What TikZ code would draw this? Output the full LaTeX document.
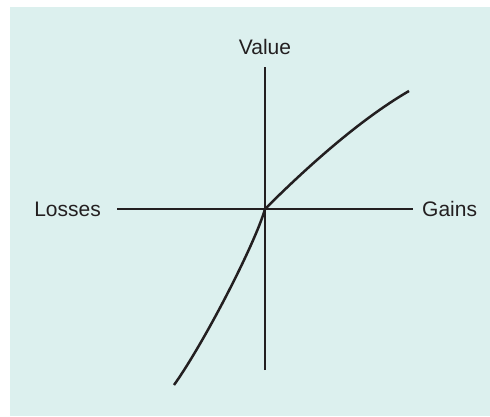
\documentclass[tikz,border=0pt]{standalone}
\usepackage{fontspec}
\setmainfont{Liberation Sans}
\usetikzlibrary{positioning}

\definecolor{panel}{RGB}{220,240,238}
\definecolor{ink}{RGB}{35,31,32}

\newcommand*{\xmin}{117}
\newcommand*{\xmax}{413}
\newcommand*{\ymin}{370}
\newcommand*{\ymax}{67}

\begin{document}
\begin{tikzpicture}
[
	x=1pt, y=-1pt,
	axislabel/.style={inner sep=0pt,text=ink,font=\fontsize{21}{25}\selectfont},
	curve/.style={ink,line width=2.5pt},
]

	\useasboundingbox (0,0) rectangle (490,416);
	\fill[panel] (10,7) rectangle (490,416);

	% axes
	\coordinate (origin) at (265,209);
	\coordinate (xleft) at (\xmin,209);
	\coordinate (xright) at (\xmax,209);
	\coordinate (ytop) at (265,\ymax);
	\coordinate (ybottom) at (265,\ymin);
	\draw[curve] (xleft) -- (xright);
	\draw[curve] (ybottom) -- (ytop);
	\node[axislabel, left=16pt of xleft] (losses) {Losses};
	\node[axislabel, right=9pt of xright] (gains) {Gains};
	\node[axislabel, above=12pt of ytop] (value) {Value};

	% graph
	\coordinate (gainend) at (409,91);
	\coordinate (lossend) at (174,385);
	\draw[curve] (origin) .. controls (305,169) and (359,120) .. (gainend);
	\draw[curve] (origin) .. controls (255,244) and (204,343) .. (lossend);

\end{tikzpicture}
\end{document}
